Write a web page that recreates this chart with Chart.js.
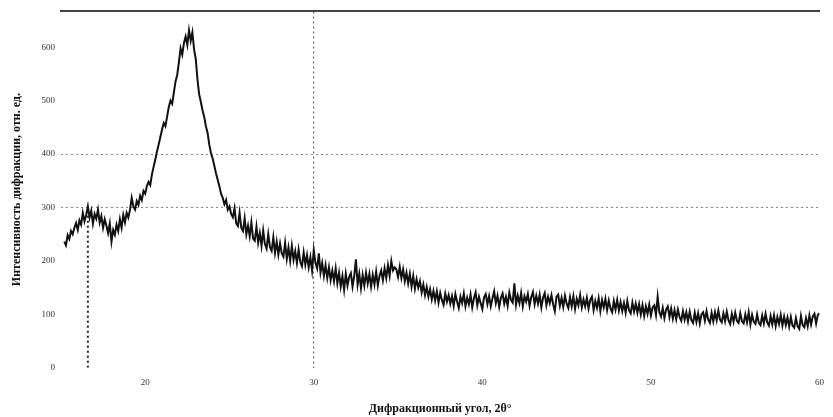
<!DOCTYPE html>
<html>
<head>
<meta charset="utf-8">
<script src="https://cdn.jsdelivr.net/npm/chart.js@4/dist/chart.umd.min.js"></script>
<style>
  html, body { margin: 0; padding: 0; background: #fff; }
  #wrap { width: 833px; height: 417px; }
</style>
</head>
<body>
<div id="wrap"><canvas id="xrdChart" width="833" height="417"></canvas></div>
<script>
// скан 2θ: начало и шаг
const angleStart = 15.2;
const angleStep = 0.1;

// интенсивность, отн. ед. (по 10 точек = 1°)
const intensity = [
  236, 229, 248, 241, 256, 250, 262, 271, 258, 276,
  268, 290, 274, 286, 302, 281, 294, 270, 288, 279,
  296, 272, 284, 262, 278, 266, 252, 270, 236, 258,
  249, 268, 256, 278, 262, 286, 272, 290, 281, 296,
  318, 302, 296, 312, 305, 322, 314, 331, 326, 340,
  348, 342, 362, 376, 390, 405, 418, 432, 446, 458,
  452, 470, 488, 500, 494, 515, 536, 548, 572, 598,
  586, 608, 620, 604, 632, 612, 628, 596, 578, 540,
  512, 498, 482, 470, 452, 440, 418, 402, 392, 378,
  364, 352, 340, 326, 318, 306, 314, 296, 302, 288,
  282, 299, 270, 265, 290, 262, 256, 280, 250, 266,
  246, 272, 242, 238, 264, 234, 252, 228, 257, 232,
  223, 250, 226, 219, 244, 215, 236, 212, 233, 214,
  208, 234, 204, 225, 200, 228, 202, 218, 196, 221,
  198, 190, 216, 193, 211, 188, 207, 182, 220, 196,
  186, 214, 178, 196, 172, 192, 168, 188, 164, 182,
  162, 186, 158, 178, 152, 172, 146, 176, 154, 170,
  177, 152, 172, 203, 156, 176, 149, 174, 154, 178,
  158, 176, 152, 174, 156, 180, 154, 172, 182, 164,
  186, 168, 192, 172, 200, 182, 188, 184, 170, 189,
  168, 184, 162, 178, 158, 176, 152, 172, 148, 166,
  150, 162, 141, 156, 136, 151, 133, 147, 128, 144,
  126, 143, 122, 140, 127, 118, 139, 124, 136, 120,
  134, 116, 138, 124, 112, 133, 121, 139, 115, 131,
  119, 137, 113, 130, 141, 117, 133, 121, 110, 132,
  138, 119, 134, 115, 130, 143, 121, 135, 114, 131,
  139, 120, 133, 116, 141, 127, 122, 158, 118, 135,
  121, 140, 115, 134, 124, 138, 116, 132, 142, 119,
  135, 120, 137, 113, 131, 140, 117, 133, 121, 136,
  119, 106, 133, 137, 116, 131, 114, 135, 120, 112,
  132, 115, 134, 110, 129, 117, 136, 113, 128, 115,
  131, 111, 127, 133, 108, 125, 112, 130, 106, 127,
  113, 129, 108, 126, 111, 104, 125, 109, 127, 107,
  123, 106, 121, 103, 125, 108, 102, 122, 105, 120,
  103, 119, 100, 117, 97, 115, 101, 118, 98, 113,
  117, 99, 133, 104, 96, 112, 93, 109, 115, 95,
  111, 92, 108, 91, 109, 95, 88, 106, 90, 104,
  87, 105, 89, 84, 103, 86, 102, 83, 100, 104,
  88, 106, 90, 84, 103, 87, 104, 89, 107, 90,
  85, 102, 87, 105, 89, 82, 101, 86, 103, 88,
  84, 102, 87, 83, 100, 85, 104, 81, 99, 86,
  82, 100, 84, 80, 98, 83, 101, 85, 79, 97,
  81, 98, 78, 95, 82, 99, 79, 96, 80, 94,
  77, 95, 79, 75, 93, 78, 73, 97, 80, 76,
  93, 78, 98, 81, 96, 101, 83, 99, 102
];

// пунктирная отметка пика
const markAngle = [16.6, 16.6];
const markValue = [0, 300];

// деления осей
const xTicks = [20, 30, 40, 50, 60];
const yTicks = [0, 100, 200, 300, 400, 500, 600];
const xGridAt = [30];
const yGridAt = [300, 400];

const xMin = 15, xMax = 60, yMin = 0, yMax = 667;

const points = intensity.map((v, i) => ({ x: +(angleStart + i * angleStep).toFixed(2), y: v }));
const markPoints = markAngle.map((a, i) => ({ x: a, y: markValue[i] }));

const serif = "'Liberation Serif', 'DejaVu Serif', serif";

const ctx = document.getElementById('xrdChart').getContext('2d');
new Chart(ctx, {
  type: 'line',
  data: {
    datasets: [
      {
        data: points,
        borderColor: '#111',
        borderWidth: 2,
        pointRadius: 0,
        tension: 0
      },
      {
        data: markPoints,
        borderColor: '#222',
        borderWidth: 2,
        borderDash: [2, 3],
        pointRadius: 0
      }
    ]
  },
  options: {
    responsive: false,
    animation: false,
    layout: { padding: { left: 10, right: -4, top: 9, bottom: 1 } },
    plugins: { legend: { display: false }, tooltip: { enabled: false } },
    scales: {
      x: {
        type: 'linear',
        min: xMin,
        max: xMax,
        afterBuildTicks: axis => { axis.ticks = xTicks.map(v => ({ value: v })); },
        grid: {
          drawTicks: false,
          lineWidth: 1.2,
          color: c => xGridAt.includes(c.tick && c.tick.value) ? '#666' : 'rgba(0,0,0,0)'
        },
        border: { display: false, dash: [2, 3] },
        ticks: { color: '#333', font: { family: serif, size: 9 }, padding: 9, maxRotation: 0 },
        title: {
          display: true,
          text: 'Дифракционный угол, 2θ°',
          color: '#111',
          font: { family: serif, size: 12, weight: 'bold' },
          padding: { top: 5, bottom: 0 }
        }
      },
      xTop: {
        type: 'linear',
        position: 'top',
        min: xMin,
        max: xMax,
        grid: { display: false, drawTicks: false },
        ticks: { display: false },
        border: { display: true, color: '#444', width: 2 }
      },
      y: {
        min: yMin,
        max: yMax,
        afterBuildTicks: axis => { axis.ticks = yTicks.map(v => ({ value: v })); },
        grid: {
          drawTicks: false,
          lineWidth: 1,
          color: c => yGridAt.includes(c.tick && c.tick.value) ? '#888' : 'rgba(0,0,0,0)'
        },
        border: { display: false, dash: [2, 3] },
        ticks: { color: '#333', font: { family: serif, size: 9 }, padding: 6 },
        title: {
          display: true,
          text: 'Интенсивность дифракции, отн. ед.',
          color: '#111',
          font: { family: serif, size: 12, weight: 'bold' },
          padding: { top: 0, bottom: 11 }
        }
      }
    }
  }
});
</script>
</body>
</html>
